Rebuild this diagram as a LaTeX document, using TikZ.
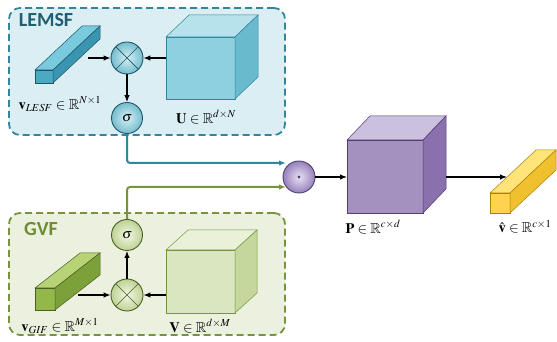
\documentclass[tikz,border=0pt]{standalone}
\usepackage{amssymb}
\usepackage{mathptmx}
\usepackage[no-math]{fontspec}
\newfontfamily\titlefont{Carlito}
\usetikzlibrary{arrows.meta,calc,positioning}

% colours of the two branches and of the output part
\definecolor{lemsfbg}{HTML}{DAEEF3}
\definecolor{lemsfline}{HTML}{31859C}
\definecolor{lemsfdark}{HTML}{1F5566}
\definecolor{lemsftitle}{HTML}{215E70}
\definecolor{gvfbg}{HTML}{EBF1DE}
\definecolor{gvfline}{HTML}{77933C}
\definecolor{gvfdark}{HTML}{4B5F24}
\definecolor{gvftitle}{HTML}{6F8C34}
\definecolor{pdark}{HTML}{4F3F72}
\definecolor{ydark}{HTML}{A8830A}

% top and side faces of a block whose front face is a node
\newcommand\boxdepth[5]{%
  \filldraw[#4] (#1.north west) -- ++(#2,#3) -- ($(#1.north east)+(#2,#3)$) -- (#1.north east) -- cycle;
  \filldraw[#5] (#1.north east) -- ++(#2,#3) -- ($(#1.south east)+(#2,#3)$) -- (#1.south east) -- cycle;
}

\tikzset{
  groupbox/.style={draw=#1line, fill=#1bg, line width=1.8pt, dash pattern=on 7pt off 4pt,
    rounded corners=11pt, inner sep=0pt},
  grouptitle/.style={font=\titlefont\bfseries\fontsize{20}{22}\selectfont, text=#1title},
  face/.style={draw=#1, line width=0.5pt, inner sep=0pt, outer sep=0pt},
  ball/.style={circle, minimum size=31pt, inner sep=0pt, line width=0.9pt, font=\fontsize{14}{16}\selectfont},
  cross/.style={path picture={\draw[#1, line width=0.7pt]
    (path picture bounding box.north west) -- (path picture bounding box.south east)
    (path picture bounding box.north east) -- (path picture bounding box.south west);}},
  mathlabel/.style={font=\fontsize{14.5}{17}\selectfont},
  flow/.style={-{Latex[length=7pt,width=5.5pt]}, line width=1.1pt},
  branchflow/.style={flow, draw=#1, line width=2pt, rounded corners=3pt}
}

\begin{document}
\begin{tikzpicture}[x=1pt,y=1pt]
  \useasboundingbox (0,0) rectangle (557,342);

  % LEMSF branch
  \node[groupbox=lemsf, minimum width=276pt, minimum height=127pt] (lemsf) at (147,270.5) {};
  \node[grouptitle=lemsf] (lemsftitle) at (46,322) {LEMSF};

  \node[face=lemsfdark, fill={rgb,255:red,74;green,170;blue,194}, minimum width=18pt, minimum height=13pt] (lbar) at (44,265.5) {};
  \boxdepth{lbar}{47}{44}{draw=lemsfdark, line width=0.5pt, fill={rgb,255:red,122;green,202;blue,222}}{draw=lemsfdark, line width=0.5pt, fill={rgb,255:red,58;green,150;blue,176}}

  \node[face=lemsfline, fill={rgb,255:red,143;green,208;blue,224}, minimum width=69pt, minimum height=62pt] (ucube) at (200.5,274) {};
  \boxdepth{ucube}{23}{22}{draw=lemsfline, line width=0.5pt, fill={rgb,255:red,183;green,226;blue,236}}{draw=lemsfline, line width=0.5pt, fill={rgb,255:red,106;green,186;blue,206}}

  \node[ball, draw=lemsfdark, inner color={rgb,255:red,214;green,240;blue,246}, outer color={rgb,255:red,118;green,188;blue,205}, minimum size=32pt, cross=lemsfdark] (lotimes) at (127,284) {};
  \node[ball, draw=lemsfdark, inner color={rgb,255:red,214;green,240;blue,246}, outer color={rgb,255:red,118;green,188;blue,205}] (lsig) at (127,224) {$\sigma$};

  \node[mathlabel] (lbarlab) at (60,238) {$\mathbf{v}_{LESF}\in\mathbb{R}^{N\times 1}$};
  \node[mathlabel] (ucubelab) at (206,225) {$\mathbf{U}\in\mathbb{R}^{d\times N}$};

  \coordinate (lbarout) at (88,284);
  \draw[flow] (lbarout) -- (lotimes);
  \draw[flow] (ucube.west |- lotimes) -- (lotimes);
  \draw[flow] (lotimes) -- (lsig);

  % GVF branch
  \node[groupbox=gvf, minimum width=276pt, minimum height=122pt] (gvf) at (147,68) {};
  \node[grouptitle=gvf] (gvftitle) at (41,113) {GVF};

  \node[face=gvfdark, fill={rgb,255:red,146;green,184;blue,74}, minimum width=20pt, minimum height=22pt] (gbar) at (45,43) {};
  \boxdepth{gbar}{45}{35}{draw=gvfdark, line width=0.5pt, fill={rgb,255:red,184;green,210;blue,118}}{draw=gvfdark, line width=0.5pt, fill={rgb,255:red,124;green,160;blue,58}}

  \node[face=gvfline, fill={rgb,255:red,217;green,230;blue,191}, minimum width=69pt, minimum height=63pt] (vcube) at (200.5,60.5) {};
  \boxdepth{vcube}{22}{20}{draw=gvfline, line width=0.5pt, fill={rgb,255:red,233;green,241;blue,216}}{draw=gvfline, line width=0.5pt, fill={rgb,255:red,196;green,215;blue,157}}

  \node[ball, draw=gvfdark, inner color={rgb,255:red,242;green,247;blue,228}, outer color={rgb,255:red,190;green,210;blue,150}, minimum size=32pt, cross=gvfdark] (gotimes) at (127,47) {};
  \node[ball, draw=gvfdark, inner color={rgb,255:red,242;green,247;blue,228}, outer color={rgb,255:red,190;green,210;blue,150}] (gsig) at (127,107) {$\sigma$};

  \node[mathlabel] (gbarlab) at (60,16) {$\mathbf{v}_{GIF}\in\mathbb{R}^{M\times 1}$};
  \node[mathlabel] (vcubelab) at (200,16) {$\mathbf{V}\in\mathbb{R}^{d\times M}$};

  \coordinate (gbarout) at (78,47);
  \draw[flow] (gbarout) -- (gotimes);
  \draw[flow] (vcube.west |- gotimes) -- (gotimes);
  \draw[flow] (gotimes) -- (gsig);

  % fusion and projection
  \node[ball, draw=pdark, inner color={rgb,255:red,232;green,224;blue,244}, outer color={rgb,255:red,150;green,128;blue,186}, minimum size=32pt,
    path picture={\fill[pdark] (path picture bounding box.center) circle (1.6pt);}] (fuse) at (299,165) {};

  \coordinate (tealin) at (286,179);
  \coordinate (greenin) at (286,155);
  \draw[branchflow=lemsfline] (lsig) |- (tealin);
  \draw[branchflow=gvfline] (gsig) |- (greenin);

  \node[face=pdark, fill={rgb,255:red,164;green,145;blue,192}, minimum width=76pt, minimum height=73pt] (pcube) at (385,165.5) {};
  \boxdepth{pcube}{23}{24}{draw=pdark, line width=0.5pt, fill={rgb,255:red,203;green,192;blue,222}}{draw=pdark, line width=0.5pt, fill={rgb,255:red,138;green,112;blue,172}}
  \node[mathlabel] (pcubelab) at (373,115) {$\mathbf{P}\in\mathbb{R}^{c\times d}$};

  \draw[flow] (fuse) -- (pcube.west |- fuse);

  \node[face=ydark, fill={rgb,255:red,255;green,211;blue,77}, minimum width=20pt, minimum height=20pt] (ybar) at (500,139) {};
  \boxdepth{ybar}{46}{43}{draw=ydark, line width=0.5pt, fill={rgb,255:red,255;green,228;blue,122}}{draw=ydark, line width=0.5pt, fill={rgb,255:red,240;green,192;blue,46}}
  \node[mathlabel] (ybarlab) at (525,115) {$\hat{\mathbf{v}}\in\mathbb{R}^{c\times 1}$};

  \coordinate (pout) at (446,165);
  \coordinate (yin) at (507,165);
  \draw[flow] (pout) -- (yin);
\end{tikzpicture}
\end{document}
